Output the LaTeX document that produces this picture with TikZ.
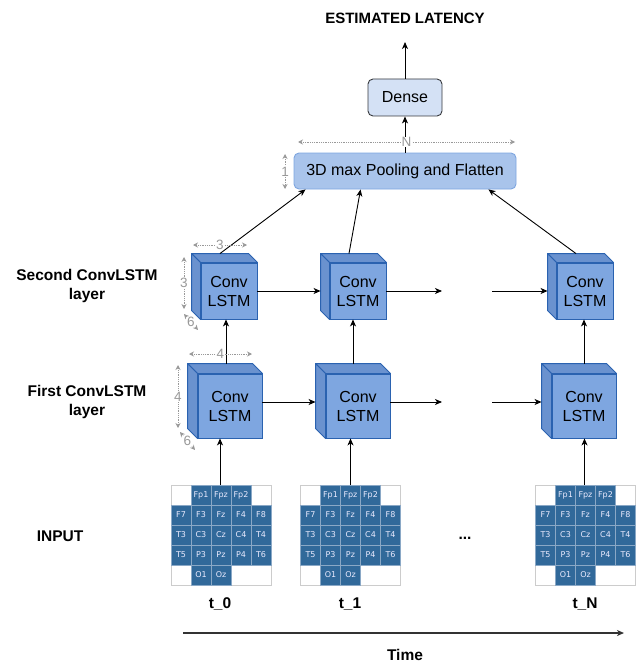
\documentclass[tikz,border=0pt]{standalone}
\usepackage{fontspec}
\setmainfont{Liberation Sans}
\newfontfamily\gridfont{DejaVu Sans}
\usetikzlibrary{arrows.meta}
\definecolor{cubefill}{HTML}{7EA6E0}
\definecolor{cubeside}{HTML}{6A92CF}
\definecolor{cubeline}{HTML}{2A62B0}
\definecolor{poolfill}{HTML}{A9C4EB}
\definecolor{poolline}{HTML}{7EA6E0}
\definecolor{densefill}{HTML}{D4E1F5}
\definecolor{denseline}{HTML}{36393D}
\definecolor{dimgray}{HTML}{999999}
\definecolor{eegblue}{HTML}{31699A}
\definecolor{eegline}{HTML}{8AA8C6}
\definecolor{framegray}{HTML}{CCCCCC}
\definecolor{timegray}{HTML}{333333}
\newcommand\cubefaces[2]{%
  \draw[cubesideface] (#1.north west) -- ([shift={(-#2,-#2)}]#1.north west)
    -- ([shift={(-#2,-#2)}]#1.north east) -- (#1.north east) -- cycle;
  \draw[cubesideface] (#1.north west) -- ([shift={(-#2,-#2)}]#1.north west)
    -- ([shift={(-#2,-#2)}]#1.south west) -- (#1.south west) -- cycle;
}
\begin{document}
\begin{tikzpicture}[x=1pt,y=-1pt,
  every node/.style={inner sep=0pt},
  cubebox/.style={draw=cubeline, fill=cubefill, line width=0.9pt, align=center,
    font=\fontsize{16}{19}\selectfont},
  cubesideface/.style={draw=cubeline, fill=cubeside, line width=0.9pt, line join=round},
  arr/.style={draw=black, line width=0.9pt, -{Stealth[length=7pt,width=6pt,inset=2pt]}},
  dim/.style={draw=dimgray, densely dotted, line width=0.8pt,
    {Stealth[length=5pt,width=5pt]}-{Stealth[length=5pt,width=5pt]}},
  dimlbl/.style={fill=white, text=dimgray, font=\fontsize{13.5}{15}\selectfont, inner sep=0.5pt},
  sidelbl/.style={font=\fontsize{15.5}{19}\selectfont\bfseries, align=center},
  eegcell/.style={draw=eegline, fill=eegblue, line width=0.4pt, minimum size=20pt,
    text=white!92!blue, font=\gridfont\fontsize{8}{9}\selectfont},
  eeg/.pic={
    \node[draw=framegray, fill=white, line width=0.8pt, minimum size=100pt] (-frame) at (0,0) {};
    \foreach \c/\r/\t in {1/0/Fp1,2/0/Fpz,3/0/Fp2,
        0/1/F7,1/1/F3,2/1/Fz,3/1/F4,4/1/F8,
        0/2/T3,1/2/C3,2/2/Cz,3/2/C4,4/2/T4,
        0/3/T5,1/3/P3,2/3/Pz,3/3/P4,4/3/T6,
        1/4/O1,2/4/Oz}
      {\node[eegcell] at (-40+20*\c,-40+20*\r) {\t};}
  }]
\path[use as bounding box] (0,0) rectangle (637,666);

% title and top boxes
\node[font=\fontsize{15}{18}\selectfont\bfseries] (title) at (405,18) {ESTIMATED LATENCY};
\coordinate (outtip) at (405,42);
\node[draw=denseline, fill=densefill, line width=0.9pt, rounded corners=5pt,
  minimum width=74pt, minimum height=37pt, font=\fontsize{16}{19}\selectfont] (dense) at (405,97.5) {Dense};
\node[draw=poolline, fill=poolfill, line width=0.9pt, rounded corners=5pt,
  minimum width=222pt, minimum height=36pt, font=\fontsize{16}{19}\selectfont] (pool) at (405,171) {3D max Pooling and Flatten};
\draw[arr] (dense.north) -- (outtip);
\draw[arr] (pool.north) -- (dense.south);
\coordinate (nL) at (298,142);
\coordinate (nR) at (515,142);
\draw[dim] (nL) -- (nR) node[midway, dimlbl] {N};
\coordinate (oneT) at (285,154);
\coordinate (oneB) at (285,189);
\draw[dim] (oneT) -- (oneB) node[midway, dimlbl] {1};

% second ConvLSTM layer
\node[cubebox, minimum width=56pt, minimum height=56pt] (c21) at (229,291) {Conv\\LSTM};
\node[cubebox, minimum width=56pt, minimum height=56pt] (c22) at (358,291) {Conv\\LSTM};
\node[cubebox, minimum width=56pt, minimum height=56pt] (c23) at (585,291) {Conv\\LSTM};
\cubefaces{c21}{9}
\cubefaces{c22}{9}
\cubefaces{c23}{9}

% first ConvLSTM layer
\node[cubebox, minimum width=64pt, minimum height=64pt] (c11) at (230,406) {Conv\\LSTM};
\node[cubebox, minimum width=64pt, minimum height=64pt] (c12) at (358,406) {Conv\\LSTM};
\node[cubebox, minimum width=64pt, minimum height=64pt] (c13) at (584,406) {Conv\\LSTM};
\cubefaces{c11}{10}
\cubefaces{c12}{10}
\cubefaces{c13}{10}

% horizontal arrows
\coordinate (e2a) at (442,291);
\coordinate (e2b) at (492,291);
\coordinate (e1a) at (442,402);
\coordinate (e1b) at (492,402);
\draw[arr] (c21.east) -- ([xshift=-9pt]c22.west);
\draw[arr] (c22.east) -- (e2a);
\draw[arr] (e2b) -- ([xshift=-9pt]c23.west);
\draw[arr] ([yshift=4pt]c11.east) -- ([shift={(-10pt,4pt)}]c12.west);
\draw[arr] ([yshift=4pt]c12.east) -- (e1a);
\draw[arr] (e1b) -- ([shift={(-10pt,4pt)}]c13.west);

% vertical arrows between layers
\coordinate (v1) at ([shift={(-4,-10)}]c11.north);
\coordinate (v2) at ([shift={(-5,-10)}]c12.north);
\coordinate (v3) at ([shift={(0,-10)}]c13.north);
\draw[arr] (v1) -- (v1 |- c21.south);
\draw[arr] (v2) -- (v2 |- c22.south);
\draw[arr] (v3) -- (v3 |- c23.south);

% arrows to pooling
\draw[arr] ([shift={(-9,-9)}]c21.north) -- ([xshift=12pt]pool.south west);
\draw[arr] ([shift={(-9,-9)}]c22.north) -- ([xshift=67pt]pool.south west);
\draw[arr] ([shift={(-9,-9)}]c23.north) -- ([xshift=-28pt]pool.south east);

% dimension annotations, second layer
\coordinate (d3a) at (193,245); \coordinate (d3b) at (247,245);
\draw[dim] (d3a) -- (d3b) node[midway, dimlbl] {3};
\coordinate (d3c) at (184,257); \coordinate (d3d) at (184,309);
\draw[dim] (d3c) -- (d3d) node[midway, dimlbl] {3};
\coordinate (d6a) at (184,314); \coordinate (d6b) at (198,330);
\draw[dim] (d6a) -- (d6b) node[midway, dimlbl] {6};
% dimension annotations, first layer
\coordinate (d4a) at (189,354); \coordinate (d4b) at (252,354);
\draw[dim] (d4a) -- (d4b) node[midway, dimlbl] {4};
\coordinate (d4c) at (178,365); \coordinate (d4d) at (178,428);
\draw[dim] (d4c) -- (d4d) node[midway, dimlbl] {4};
\coordinate (d6c) at (180,432); \coordinate (d6d) at (195,450);
\draw[dim] (d6c) -- (d6d) node[midway, dimlbl] {6};

% side labels
\node[sidelbl] (lbl2) at (87,286) {Second ConvLSTM\\layer};
\node[sidelbl] (lbl1) at (87,402) {First ConvLSTM\\layer};
\node[sidelbl] (lblin) at (60,536) {INPUT};

% input grids
\pic (g0) at (221,535) {eeg};
\pic (g1) at (350.5,535) {eeg};
\pic (gN) at (585.5,535) {eeg};
\draw[arr] ([xshift=-1pt]g0-frame.north) -- ([xshift=-1pt]g0-frame.north |- c11.south);
\draw[arr] (g1-frame.north) -- (g1-frame.north |- c12.south);
\draw[arr] ([xshift=-1pt]gN-frame.north) -- ([xshift=-1pt]gN-frame.north |- c13.south);
\node[sidelbl] (dots) at (465,538) {...};
\node[sidelbl] (t0) at (220,604) {t\_0};
\node[sidelbl] (t1) at (350,604) {t\_1};
\node[sidelbl] (tN) at (585,604) {t\_N};

% time axis
\coordinate (ta) at (183,633);
\coordinate (tb) at (624,633);
\draw[draw=timegray, line width=1.2pt, -{Stealth[length=7pt,width=6pt,inset=2pt]}] (ta) -- (tb);
\node[sidelbl] (time) at (405,655) {Time};
\end{tikzpicture}
\end{document}
